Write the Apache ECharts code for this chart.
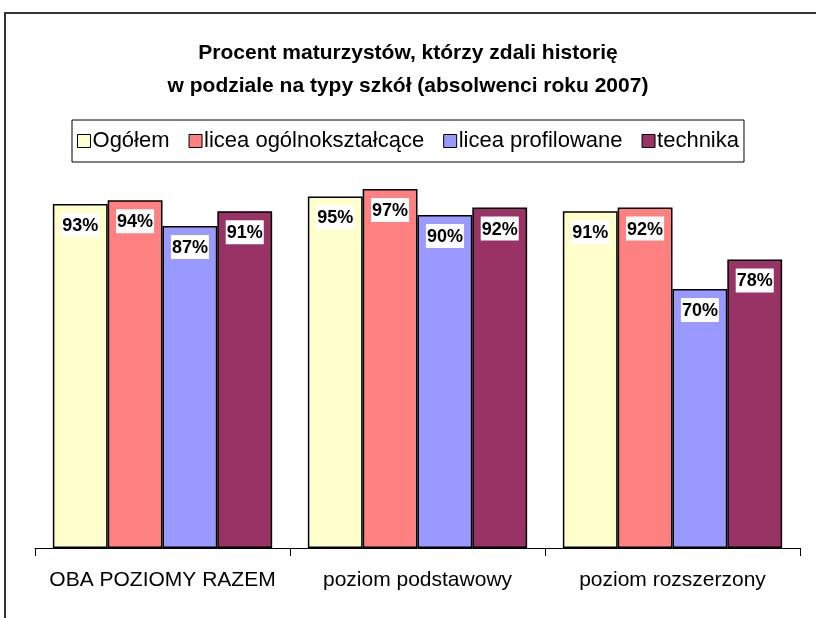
<!DOCTYPE html>
<html>
<head>
<meta charset="utf-8">
<script src="https://cdn.jsdelivr.net/npm/echarts@6/dist/echarts.min.js"></script>
<style>
  html, body { margin: 0; padding: 0; background: #fff; }
  #chart { width: 816px; height: 618px; }
</style>
</head>
<body>
<div id="chart"></div>
<script>
// kategorie i dane
const categories = ['OBA POZIOMY RAZEM', 'poziom podstawowy', 'poziom rozszerzony']
const seriesNames = ['Ogółem', 'licea ogólnokształcące', 'licea profilowane', 'technika']
const ogolem = [93, 95, 91]
const liceaOgolno = [94, 97, 92]
const liceaProfil = [87, 90, 70]
const technika = [91, 92, 78]
const colors = ['#FFFFCC', '#FF8080', '#9999FF', '#993366']

const allValues = [ogolem, liceaOgolno, liceaProfil, technika]

const chart = echarts.init(document.getElementById('chart'))
const font = '"Liberation Sans", Arial, sans-serif'

const option = {
  animation: false,
  color: colors,
  textStyle: { fontFamily: font },
  title: {
    text: 'Procent maturzystów, którzy zdali historię\nw podziale na typy szkół (absolwenci roku 2007)',
    left: 'center',
    top: 32,
    textStyle: {
      fontSize: 21,
      fontWeight: 'bold',
      color: '#000',
      lineHeight: 33,
      fontFamily: font
    }
  },
  legend: {
    top: 120,
    left: 'center',
    icon: 'rect',
    itemWidth: 13,
    itemHeight: 13,
    itemGap: 19,
    borderColor: '#000',
    borderWidth: 1,
    padding: [10, 5, 10, 5],
    textStyle: { fontSize: 22, color: '#000', fontFamily: font, padding: [0, 0, 0, -3] },
    itemStyle: { borderColor: '#000', borderWidth: 1 },
    data: seriesNames
  },
  grid: {
    left: 35,
    right: 16,
    top: 178,
    bottom: 70,
    containLabel: false
  },
  xAxis: {
    type: 'category',
    data: categories,
    axisLine: { lineStyle: { color: '#000', width: 1 } },
    axisTick: { show: true, interval: 0, length: 8, inside: false, lineStyle: { color: '#000' } },
    axisLabel: { interval: 0, hideOverlap: false, fontSize: 21, color: '#000', margin: 22, fontFamily: font }
  },
  yAxis: {
    type: 'value',
    min: 0,
    max: 100,
    show: false,
    splitLine: { show: false }
  },
  graphic: [{
    type: 'rect',
    shape: { x: 5, y: 13, width: 900, height: 700 },
    style: { fill: 'none', stroke: '#333', lineWidth: 2 },
    silent: true
  }],
  series: seriesNames.map((name, i) => ({
    name: name,
    type: 'bar',
    data: allValues[i],
    barGap: '0%',
    barCategoryGap: '14%',
    itemStyle: { color: colors[i], borderColor: '#000', borderWidth: 1.5 },
    label: {
      show: true,
      position: 'insideTop',
      distance: 9,
      formatter: '{c}%',
      fontSize: 18,
      fontWeight: 'bold',
      color: '#000',
      backgroundColor: '#fff',
      padding: [4, 1, 2, 1],
      fontFamily: font
    }
  }))
}

option && chart.setOption(option)
</script>
</body>
</html>
